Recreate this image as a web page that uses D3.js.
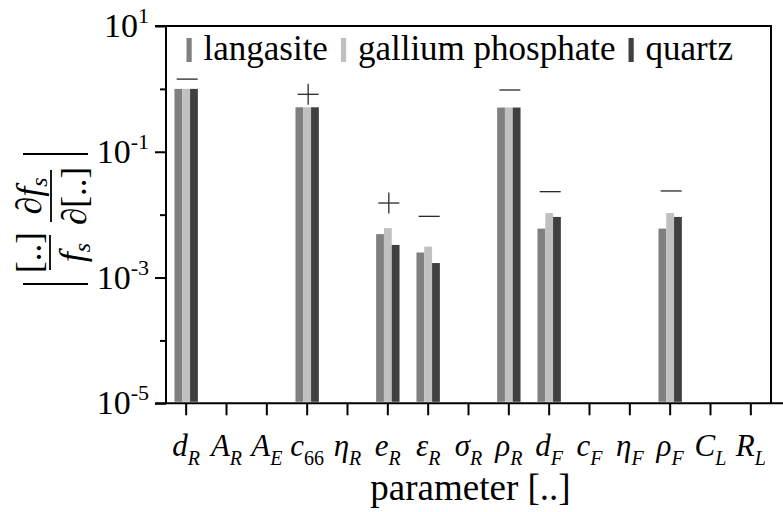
<!DOCTYPE html>
<html><head><meta charset="utf-8">
<script src="https://cdn.jsdelivr.net/npm/d3@7"></script>
<style>
body{margin:0;background:#fff}
svg{display:block}
svg text{font-family: "Liberation Serif", "DejaVu Serif", serif;}
</style>
</head><body>
<svg id="c" width="783" height="512"></svg>
<script>
// ---- data ----
const catMain = ["d","A","A","c","η","e","ε","σ","ρ","d","c","η","ρ","C","R"];
const catSub  = ["R","R","E","66","R","R","R","R","R","F","F","F","F","L","L"];
const seriesNames = ["langasite","gallium phosphate","quartz"];
const seriesColors = ["#808080","#c0c0c0","#404040"];
const langasite        = [1.0,null,null,0.51,null,4.9e-3,2.5e-3,null,0.505,6.0e-3,null,null,6.0e-3,null,null];
const galliumPhosphate = [1.0,null,null,0.51,null,6.1e-3,3.1e-3,null,0.505,1.06e-2,null,null,1.06e-2,null,null];
const quartz           = [1.0,null,null,0.51,null,3.3e-3,1.7e-3,null,0.505,9.2e-3,null,null,9.2e-3,null,null];
const signs      = ["-",null,null,"+",null,"+","-",null,"-","-",null,null,"-",null,null];
const signLevel  = [1.43,null,null,0.82,null,0.0153,0.0094,null,0.96,0.0232,null,null,0.0238,null,null];
const yTickExps  = [1,0,-1,-2,-3,-4,-5];
const yLabelExps = [1,-1,-3,-5];

// ---- layout ----
const svg = d3.select("#c");
const L = 166, R = 771, T = 26, B = 403.3;
const x = d3.scaleBand().domain(d3.range(catMain.length)).range([L, R]).padding(0);
const y = d3.scaleLog().domain([1e-5, 10]).range([B, T]);
const barW = 7.8;
const series = [langasite, galliumPhosphate, quartz];

// bars
series.forEach((arr, si) => {
  svg.append("g").selectAll("rect")
    .data(arr.map((v, i) => ({v, i})).filter(d => d.v != null))
    .join("rect")
    .attr("x", d => x(d.i) + x.bandwidth() / 2 + (si - 1.5) * barW)
    .attr("width", barW)
    .attr("y", d => y(d.v))
    .attr("height", d => B - 1.5 - y(d.v))
    .attr("fill", seriesColors[si]);
});

// sign markers
const mk = svg.append("g").attr("stroke", "#2a2a2a").attr("stroke-width", 1.3);
signs.forEach((s, i) => {
  if (!s) return;
  const cx = x(i) + x.bandwidth() / 2 + 1, cy = y(signLevel[i]);
  mk.append("line").attr("x1", cx - 10.5).attr("x2", cx + 10.5).attr("y1", cy).attr("y2", cy);
  if (s === "+") mk.append("line").attr("x1", cx).attr("x2", cx).attr("y1", cy - 10.5).attr("y2", cy + 10.5);
});

// axes
const xAxis = d3.axisBottom(x).tickSize(12).tickFormat("");
const gx = svg.append("g").attr("transform", `translate(0,${B})`).call(xAxis);
gx.select(".domain").remove();
gx.selectAll(".tick line").attr("stroke", "#000").attr("stroke-width", 2);

const yAxis = d3.axisLeft(y).tickValues(yTickExps.map(e => Math.pow(10, e))).tickSize(11).tickFormat("");
const gy = svg.append("g").attr("transform", `translate(${L},0)`).call(yAxis);
gy.select(".domain").remove();
gy.selectAll(".tick line").attr("stroke", "#000").attr("stroke-width", 2)
  .attr("x2", d => (Math.round(Math.log10(d)) % 2 === 0 ? -6 : -11));

// frame
const fr = svg.append("g").attr("stroke", "#000").attr("stroke-width", 2).attr("fill", "none");
fr.append("line").attr("x1", L).attr("x2", L).attr("y1", T).attr("y2", B);
fr.append("line").attr("x1", L - 11).attr("x2", R + 1).attr("y1", T).attr("y2", T);
fr.append("line").attr("x1", R).attr("x2", R).attr("y1", T).attr("y2", B);
fr.append("line").attr("x1", L - 11).attr("x2", 783).attr("y1", B).attr("y2", B);

// y tick labels
yLabelExps.forEach(e => {
  const t = svg.append("text").attr("x", 149).attr("y", y(Math.pow(10, e)) + 11)
    .attr("text-anchor", "end").attr("font-size", 34);
  t.append("tspan").text("10");
  t.append("tspan").attr("font-size", 22).attr("dy", -14).text(String(e));
});

// x tick labels
catMain.forEach((m, i) => {
  const t = svg.append("text").attr("x", x(i) + x.bandwidth() / 2).attr("y", 456)
    .attr("text-anchor", "middle").attr("font-size", 31);
  t.append("tspan").attr("font-style", "italic").text(m);
  t.append("tspan").attr("font-size", 20).attr("dy", 9)
    .attr("font-style", catSub[i] === "66" ? "normal" : "italic").text(catSub[i]);
});

// x axis title
svg.append("text").attr("x", (L + R) / 2 + 2).attr("y", 500).attr("text-anchor", "middle")
  .attr("font-size", 37).text("parameter [..]");

// y axis label
const yl = svg.append("g").attr("transform", "translate(51,219) rotate(-90)");
yl.append("line").attr("x1", -65).attr("x2", -65).attr("y1", -28).attr("y2", 37).attr("stroke", "#000").attr("stroke-width", 2.2);
yl.append("line").attr("x1", 65).attr("x2", 65).attr("y1", -28).attr("y2", 37).attr("stroke", "#000").attr("stroke-width", 2.2);
yl.append("line").attr("x1", -51).attr("x2", -16).attr("y1", -1).attr("y2", -1).attr("stroke", "#000").attr("stroke-width", 1.8);
yl.append("line").attr("x1", -3).attr("x2", 49).attr("y1", 0).attr("y2", 0).attr("stroke", "#000").attr("stroke-width", 1.8);
yl.append("text").attr("x", -33.5).attr("y", -10).attr("text-anchor", "middle").attr("font-size", 35).text("[..]");
const d1 = yl.append("text").attr("x", -33.5).attr("y", 33).attr("text-anchor", "middle").attr("font-size", 36);
d1.append("tspan").attr("font-style", "italic").text("f");
d1.append("tspan").attr("font-style", "italic").attr("font-size", 24).attr("dy", 6).text("s");
const n2 = yl.append("text").attr("x", 23).attr("y", -10).attr("text-anchor", "middle").attr("font-size", 36);
n2.append("tspan").attr("font-style", "italic").text("∂f");
n2.append("tspan").attr("font-style", "italic").attr("font-size", 24).attr("dy", 6).text("s");
const d2 = yl.append("text").attr("x", 23).attr("y", 35).attr("text-anchor", "middle").attr("font-size", 35);
d2.append("tspan").attr("font-style", "italic").text("∂");
d2.append("tspan").text("[..]");

// legend
let lx = 186.5;
seriesNames.forEach((n, i) => {
  svg.append("rect").attr("x", lx).attr("y", 38).attr("width", 5.2).attr("height", 24).attr("fill", seriesColors[i]);
  const t = svg.append("text").attr("x", lx + 17).attr("y", 60).attr("font-size", 35).text(n);
  lx = lx + 17 + t.node().getComputedTextLength() + 13;
});
</script>
</body></html>
